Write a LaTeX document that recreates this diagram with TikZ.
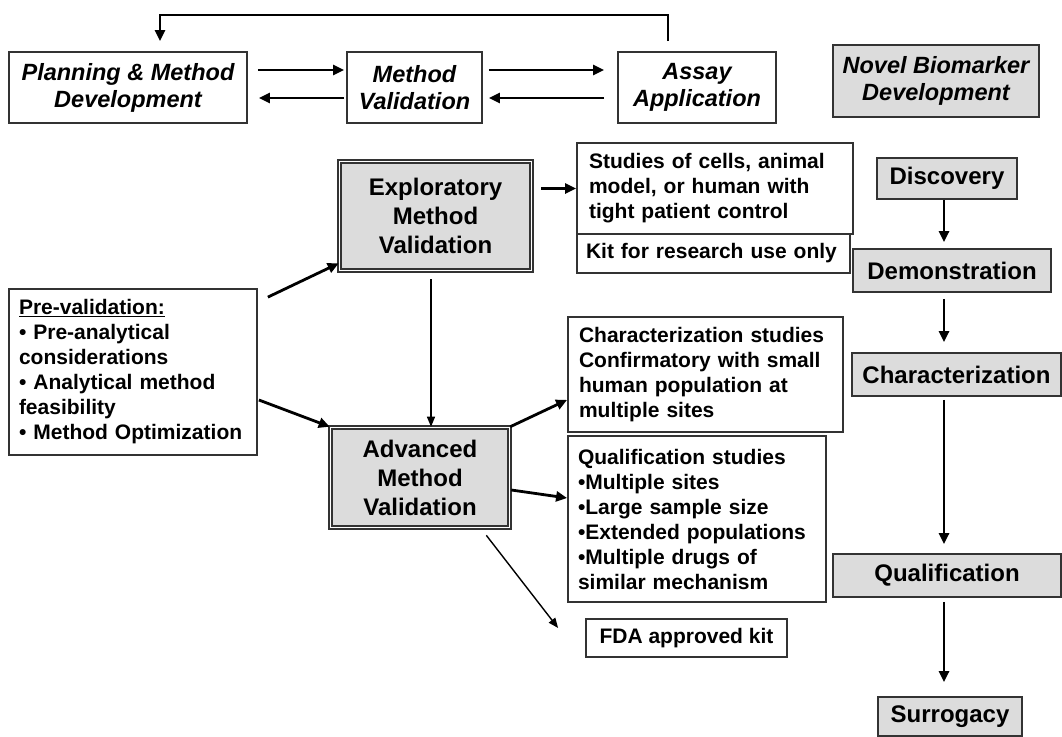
\documentclass[tikz,border=0pt]{standalone}
\usepackage{fontspec}
\setmainfont{Liberation Sans}
\usetikzlibrary{arrows.meta,calc}
\definecolor{boxgray}{HTML}{DCDCDC}
\definecolor{linegray}{HTML}{333333}

\tikzset{
  box/.style={draw=linegray, line width=1.8pt, inner sep=0pt,
    font=\bfseries\fontsize{21}{25}\selectfont},
  topbox/.style={box, align=center,
    font=\bfseries\itshape\fontsize{23.5}{27}\selectfont},
  stagebox/.style={box, fill=boxgray, align=center,
    font=\bfseries\fontsize{24}{29}\selectfont},
  valbox/.style={stagebox, line width=1.6pt, double=white, double distance=1.5pt},
  textbox/.style={box, align=left, inner xsep=11pt},
  arr/.style={draw=black, line width=2.8pt, -{Triangle[length=11pt,width=10pt]}},
  thinarr/.style={draw=black, line width=1.4pt, -{Triangle[length=10pt,width=8pt]}}
}

\begin{document}
\begin{tikzpicture}[x=1pt,y=-1pt]
\useasboundingbox (0,0) rectangle (1062,736);

\node[topbox, minimum width=238pt, minimum height=71pt] (plan) at (128,87.5) {Planning \& Method\\Development};
\node[topbox, minimum width=135pt, minimum height=71pt] (mval) at (414.5,87.5) {Method\\Validation};
\node[topbox, minimum width=158pt, minimum height=71pt] (assay) at (697,87.5) {Assay\\Application};
\node[topbox, fill=boxgray, minimum width=206pt, minimum height=72pt] (novel) at (936,81) {Novel Biomarker\\Development};

\node[valbox, minimum width=192pt, minimum height=109pt] (explor) at (435.5,216) {Exploratory\\Method\\Validation};
\node[valbox, minimum width=179pt, minimum height=100pt] (adv) at (420,477.5) {Advanced\\Method\\Validation};

\node[textbox, inner xsep=10pt, text width=228pt, minimum height=166pt] (prev) at (133,372)
  {\underline{Pre-validation:}\\
   \textbullet\ Pre-analytical\\
   considerations\\
   \textbullet\ Analytical method\\
   feasibility\\
   \textbullet\ Method Optimization};

\node[textbox, inner xsep=12pt, text width=252pt, minimum height=91pt] (studies) at (715,188.5)
  {Studies of cells, animal\\model, or human with\\tight patient control};
\node[textbox, inner xsep=9pt, text width=255pt, minimum height=39pt] (kit) at (713.5,253.5)
  {Kit for research use only};
\node[textbox, text width=253pt, minimum height=115pt] (charst) at (705.5,374.5)
  {Characterization studies\\Confirmatory with small\\human population at\\multiple sites};
\node[textbox, inner xsep=10pt, text width=238pt, minimum height=166pt] (qualst) at (697,519)
  {Qualification studies\\
   \textbullet Multiple sites\\
   \textbullet Large sample size\\
   \textbullet Extended populations\\
   \textbullet Multiple drugs of\\
   similar mechanism};
\node[box, minimum width=201pt, minimum height=38pt] (fda) at (686.5,638) {FDA approved kit};

\node[stagebox, minimum width=140pt, minimum height=41pt] (disc) at (947,178.5) {Discovery};
\node[stagebox, minimum width=198pt, minimum height=43pt] (demo) at (952,270.5) {Demonstration};
\node[stagebox, minimum width=209pt, minimum height=43pt] (charz) at (956.5,374.5) {Characterization};
\node[stagebox, minimum width=228pt, minimum height=43pt] (qual) at (947,575.5) {Qualification};
\node[stagebox, minimum width=144pt, minimum height=39pt] (surr) at (950,716.5) {Surrogacy};

% top row
\coordinate (loop) at (400,15);
\draw[arr] ($(assay.north)+(-29,-10)$) |- (loop) -| ($(plan.north)+(32,-10)$);
\draw[arr] ($(plan.east)+(10,-17.5)$) -- ($(mval.west)+(-2,-17.5)$);
\draw[arr] ($(mval.west)+(-2,10.5)$) -- ($(plan.east)+(11,10.5)$);
\draw[arr] ($(mval.east)+(6,-17.5)$) -- ($(assay.west)+(-13,-17.5)$);
\draw[arr] ($(assay.west)+(-13,10.5)$) -- ($(mval.east)+(6,10.5)$);

% validation paths
\draw[arr] ($(prev.north east)+(10,9)$) -- ($(explor.south west)+(0,-8)$);
\draw[arr] ($(prev.east)+(1,28)$) -- (adv.north west);
\draw[thinarr] ($(explor.south)+(-4.5,8)$) -- ($(adv.north)+(11,0)$);
\draw[arr] ($(explor.east |- studies.west)+(9,0)$) -- (studies.west);
\draw[arr] (adv.north east) -- ($(charst.south west)+(0,-33)$);
\draw[arr] ($(adv.east)+(1,12.5)$) -- ($(qualst.west)+(0,-21)$);
\draw[thinarr] ($(adv.south east)+(-24,7)$) -- ($(fda.west)+(-27,-10)$);

% biomarker stages
\coordinate (col) at (944,0);
\draw[arr] (col |- disc.south) -- ($(col |- demo.north)+(0,-6)$);
\draw[arr] ($(col |- demo.south)+(0,6)$) -- ($(col |- charz.north)+(0,-10)$);
\draw[arr] ($(col |- charz.south)+(0,3)$) -- ($(col |- qual.north)+(0,-9)$);
\draw[arr] ($(col |- qual.south)+(0,4)$) -- ($(col |- surr.north)+(0,-14)$);
\end{tikzpicture}
\end{document}
